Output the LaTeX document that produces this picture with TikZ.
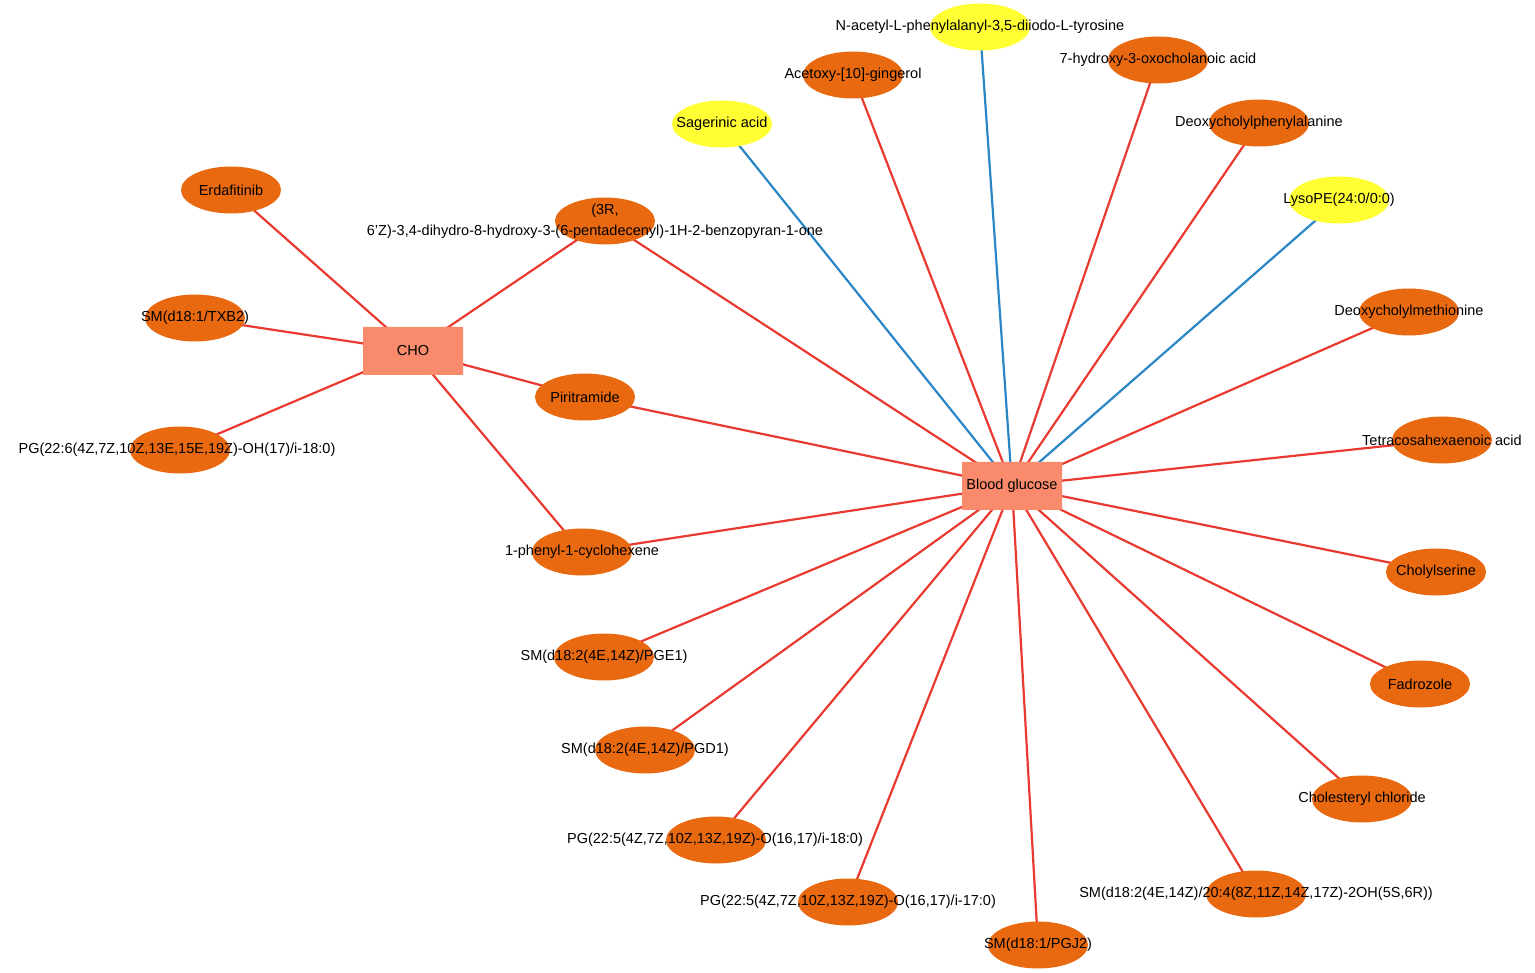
\documentclass[tikz,border=0pt]{standalone}
\usepackage{fontspec}
\setmainfont{Liberation Sans}
\usetikzlibrary{shapes.geometric,shapes.misc,backgrounds}
\definecolor{org}{HTML}{E8690F}
\definecolor{yel}{HTML}{FFFF33}
\definecolor{hub}{HTML}{F98B6C}
\definecolor{redl}{HTML}{E83A30}
\definecolor{bluel}{HTML}{2A86C4}
\tikzset{
 elx/.style={ellipse,draw=none,minimum width=100pt,minimum height=47pt,inner sep=0pt},
 ornode/.style={elx,fill=org}, yenode/.style={elx,fill=yel},
 hubnode/.style={chamfered rectangle,chamfered rectangle xsep=12pt,chamfered rectangle ysep=12pt,fill=hub,draw=none,minimum width=100pt,minimum height=48pt,inner sep=0pt},
 lab/.style={font=\fontsize{14.5}{17}\selectfont,text=black,inner sep=0pt},
 redge/.style={draw=redl,line width=2.2pt}, bedge/.style={draw=bluel,line width=2.2pt}
}
\newcommand\mn[5]{\node[#1] (#2) at (#3) {}; \node[lab] at (#4) {#5};}
\begin{document}
\begin{tikzpicture}[x={(1pt,0pt)},y={(0pt,-1pt)}]
\useasboundingbox (0,0) rectangle (1535,973);
\node[hubnode] (bg) at (1012,486) {}; \node[lab] at (1012,486) {Blood glucose};
\node[hubnode] (cho) at (413,351) {}; \node[lab] at (413,351) {CHO};
\mn{yenode}{na}{980,27}{980,27}{N-acetyl-L-phenylalanyl-3,5-diiodo-L-tyrosine}
\mn{ornode}{ac}{853,75}{853,75}{Acetoxy-[10]-gingerol}
\mn{ornode}{hy}{1158,60}{1158,60}{7-hydroxy-3-oxocholanoic acid}
\mn{yenode}{sa}{722,124}{722,124}{Sagerinic acid}
\mn{ornode}{dp}{1259,123}{1259,123}{Deoxycholylphenylalanine}
\mn{yenode}{ly}{1339,200}{1339,200}{LysoPE(24:0/0:0)}
\mn{ornode}{er}{231,190}{231,190}{Erdafitinib}
\node[ornode] (tr) at (605,221) {};
\node[lab] at (605,211) {(3R,};
\node[lab] at (595,232) {6'Z)-3,4-dihydro-8-hydroxy-3-(6-pentadecenyl)-1H-2-benzopyran-1-one};
\mn{ornode}{tx}{195,318}{195,318}{SM(d18:1/TXB2)}
\mn{ornode}{dm}{1409,312}{1409,312}{Deoxycholylmethionine}
\mn{ornode}{pi}{585,397}{585,397}{Piritramide}
\mn{ornode}{pg6}{180,450}{177,450}{PG(22:6(4Z,7Z,10Z,13E,15E,19Z)-OH(17)/i-18:0)}
\mn{ornode}{te}{1442,440}{1442,440}{Tetracosahexaenoic acid}
\mn{ornode}{ph}{582,552}{582,552}{1-phenyl-1-cyclohexene}
\mn{ornode}{cs}{1436,572}{1436,572}{Cholylserine}
\mn{ornode}{pe}{604,657}{604,657}{SM(d18:2(4E,14Z)/PGE1)}
\mn{ornode}{fa}{1420,684}{1420,684}{Fadrozole}
\mn{ornode}{pd}{645,750}{645,750}{SM(d18:2(4E,14Z)/PGD1)}
\mn{ornode}{cc}{1362,799}{1362,799}{Cholesteryl chloride}
\mn{ornode}{p18}{716,840}{715,840}{PG(22:5(4Z,7Z,10Z,13Z,19Z)-O(16,17)/i-18:0)}
\mn{ornode}{s20}{1256,894}{1256,894}{SM(d18:2(4E,14Z)/20:4(8Z,11Z,14Z,17Z)-2OH(5S,6R))}
\mn{ornode}{p17}{848,902}{848,902}{PG(22:5(4Z,7Z,10Z,13Z,19Z)-O(16,17)/i-17:0)}
\mn{ornode}{pj}{1038,945}{1038,945}{SM(d18:1/PGJ2)}
\begin{scope}[on background layer]
\foreach \n in {na,sa,ly} \draw[bedge] (bg.center) -- (\n.center);
\foreach \n in {ac,hy,dp,tr,dm,pi,te,ph,cs,pe,fa,pd,cc,p18,s20,p17,pj} \draw[redge] (bg.center) -- (\n.center);
\foreach \n in {er,tx,pg6,tr,pi,ph} \draw[redge] (cho.center) -- (\n.center);
\end{scope}
\end{tikzpicture}
\end{document}
